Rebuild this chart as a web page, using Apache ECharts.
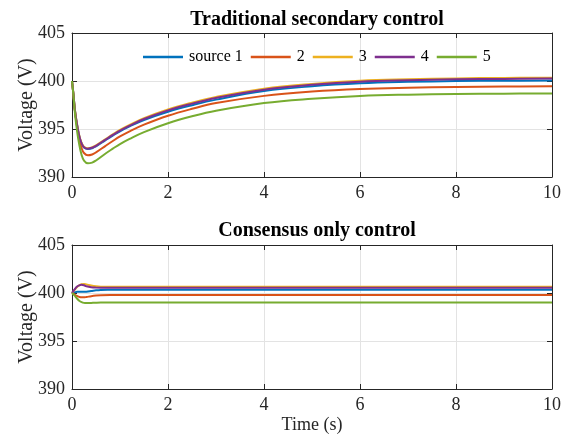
<!DOCTYPE html>
<html>
<head>
<meta charset="utf-8">
<script src="https://cdn.jsdelivr.net/npm/echarts@6/dist/echarts.min.js"></script>
<style>html,body{margin:0;padding:0;background:#fff;}#c{width:571px;height:440px;}</style>
</head>
<body>
<div id="c"></div>
<script>
// ---- data ----
const seriesNames = ['source 1', '2', '3', '4', '5'];
const colors = ['#0072BD', '#D95319', '#EDB120', '#7E2F8E', '#77AC30'];
const xTicks = [0, 2, 4, 6, 8, 10];
const yTicks = [390, 395, 400, 405];

// Top: Traditional secondary control
const tTop = [0, 0.03, 0.06, 0.1, 0.15, 0.2, 0.25, 0.33, 0.42, 0.5, 0.7, 0.85, 1, 1.2, 1.5, 2, 2.5, 3, 4, 5, 6, 7, 8, 9, 10];
const top1 = [400, 398.6, 397.0, 395.6, 394.28, 393.47, 393.07, 392.92, 393.0, 393.2, 393.85, 394.32, 394.76, 395.27, 395.94, 396.8, 397.48, 398.06, 398.95, 399.45, 399.76, 399.91, 399.99, 400.03, 400.05];
const top2 = [400, 398.55, 396.9, 395.4, 394.0, 393.0, 392.5, 392.26, 392.35, 392.56, 393.25, 393.75, 394.22, 394.76, 395.45, 396.38, 397.1, 397.7, 398.45, 398.9, 399.17, 399.3, 399.37, 399.42, 399.45];
const top3 = [400, 398.62, 397.05, 395.65, 394.35, 393.55, 393.15, 393.0, 393.1, 393.3, 393.95, 394.44, 394.9, 395.42, 396.12, 397.03, 397.74, 398.34, 399.2, 399.7, 400.03, 400.18, 400.27, 400.32, 400.35];
const top4 = [400, 398.6, 397.0, 395.6, 394.3, 393.5, 393.1, 392.95, 393.05, 393.25, 393.9, 394.38, 394.83, 395.35, 396.04, 396.94, 397.64, 398.24, 399.1, 399.6, 399.93, 400.08, 400.17, 400.22, 400.25];
const top5 = [400, 398.5, 396.7, 395.0, 393.4, 392.3, 391.7, 391.42, 391.5, 391.72, 392.45, 392.95, 393.43, 393.97, 394.68, 395.6, 396.32, 396.9, 397.7, 398.15, 398.45, 398.58, 398.64, 398.68, 398.7];

// Bottom: Consensus only control
const tBot = [0, 0.05, 0.1, 0.15, 0.2, 0.25, 0.3, 0.4, 0.5, 0.6, 0.8, 1, 2, 4, 6, 8, 10];
const bot1 = [400, 400.08, 400.12, 400.14, 400.14, 400.12, 400.13, 400.2, 400.28, 400.32, 400.34, 400.35, 400.35, 400.35, 400.35, 400.35, 400.35];
const bot2 = [400, 399.85, 399.7, 399.6, 399.55, 399.55, 399.58, 399.67, 399.73, 399.76, 399.78, 399.78, 399.78, 399.78, 399.78, 399.78, 399.78];
const bot3 = [400, 400.3, 400.6, 400.8, 400.92, 400.95, 400.9, 400.78, 400.7, 400.66, 400.65, 400.65, 400.65, 400.65, 400.65, 400.65, 400.65];
const bot4 = [400, 400.35, 400.65, 400.8, 400.85, 400.8, 400.7, 400.6, 400.56, 400.55, 400.55, 400.55, 400.55, 400.55, 400.55, 400.55, 400.55];
const bot5 = [400, 399.75, 399.45, 399.2, 399.05, 398.97, 398.95, 398.97, 398.99, 399.0, 399.0, 399.0, 399.0, 399.0, 399.0, 399.0, 399.0];

const topTitle = 'Traditional secondary control';
const botTitle = 'Consensus only control';
const yName = 'Voltage (V)';
const xName = 'Time (s)';

// ---- chart ----
const FONT = '"Liberation Serif", "Times New Roman", serif';
const AXC = '#262626';
const chart = echarts.init(document.getElementById('c'), null, {renderer: 'canvas'});

function pairs(t, v) { return t.map((x, i) => [x, v[i]]); }

function xAxisMain(gi, withName) {
  return {
    type: 'value', gridIndex: gi, min: 0, max: 10, interval: 2, position: 'bottom',
    axisLine: {show: true, onZero: false, lineStyle: {color: AXC, width: 1}},
    axisTick: {show: true, inside: true, length: 5, lineStyle: {color: AXC}},
    axisLabel: {color: AXC, fontFamily: FONT, fontSize: 18, margin: 7},
    splitLine: {show: true, lineStyle: {color: '#e3e3e3', width: 1}},
    name: withName ? xName : '', nameLocation: 'middle', nameGap: 27,
    nameTextStyle: {color: AXC, fontFamily: FONT, fontSize: 18}
  };
}
function xAxisTop(gi) {
  return {
    type: 'value', gridIndex: gi, min: 0, max: 10, interval: 2, position: 'top',
    axisLine: {show: true, onZero: false, lineStyle: {color: AXC, width: 1}},
    axisTick: {show: true, inside: true, length: 5, lineStyle: {color: AXC}},
    axisLabel: {show: false}, splitLine: {show: false}
  };
}
function yAxisMain(gi) {
  return {
    type: 'value', gridIndex: gi, min: 390, max: 405, interval: 5, position: 'left',
    axisLine: {show: true, onZero: false, lineStyle: {color: AXC, width: 1}},
    axisTick: {show: true, inside: true, length: 5, lineStyle: {color: AXC}},
    axisLabel: {color: AXC, fontFamily: FONT, fontSize: 18, margin: 7},
    splitLine: {show: true, lineStyle: {color: '#e3e3e3', width: 1}},
    name: yName, nameLocation: 'middle', nameGap: 35, nameRotate: 90,
    nameMoveOverlap: false,
    nameTextStyle: {color: AXC, fontFamily: FONT, fontSize: 20}
  };
}
function yAxisRight(gi) {
  return {
    type: 'value', gridIndex: gi, min: 390, max: 405, interval: 5, position: 'right',
    axisLine: {show: true, onZero: false, lineStyle: {color: AXC, width: 1}},
    axisTick: {show: true, inside: true, length: 5, lineStyle: {color: AXC}},
    axisLabel: {show: false}, splitLine: {show: false}
  };
}

const topData = [top1, top2, top3, top4, top5];
const botData = [bot1, bot2, bot3, bot4, bot5];
const series = [];
topData.forEach((v, i) => series.push({
  name: seriesNames[i], type: 'line', xAxisIndex: 0, yAxisIndex: 0,
  data: pairs(tTop, v), showSymbol: false, smooth: 0.4,
  lineStyle: {color: colors[i], width: 2}, itemStyle: {color: colors[i]}, z: 3 + i
}));
botData.forEach((v, i) => series.push({
  name: seriesNames[i], type: 'line', xAxisIndex: 2, yAxisIndex: 2,
  data: pairs(tBot, v), showSymbol: false, smooth: 0.4,
  lineStyle: {color: colors[i], width: 2}, itemStyle: {color: colors[i]}, z: 3 + i
}));

chart.setOption({
  animation: false,
  backgroundColor: '#ffffff',
  textStyle: {fontFamily: FONT},
  title: [
    {text: topTitle, left: 312, top: 5, textAlign: 'center',
     textStyle: {fontFamily: FONT, fontSize: 20, fontWeight: 'bold', color: '#000'}},
    {text: botTitle, left: 312, top: 216, textAlign: 'center',
     textStyle: {fontFamily: FONT, fontSize: 20, fontWeight: 'bold', color: '#000'}}
  ],
  legend: {
    data: seriesNames, left: 138, top: 44, orient: 'horizontal',
    icon: 'rect', itemWidth: 40, itemHeight: 2.5, itemGap: 8,
    textStyle: {fontFamily: FONT, fontSize: 16, color: '#000', padding: [0, 0, 0, 1]},
    backgroundColor: 'rgba(255,255,255,0)'
  },
  grid: [
    {left: 72, top: 33, width: 480, height: 144},
    {left: 72, top: 245, width: 480, height: 144}
  ],
  xAxis: [xAxisMain(0, false), xAxisTop(0), xAxisMain(1, true), xAxisTop(1)],
  yAxis: [yAxisMain(0), yAxisRight(0), yAxisMain(1), yAxisRight(1)],
  series: series
});
</script>
</body>
</html>
